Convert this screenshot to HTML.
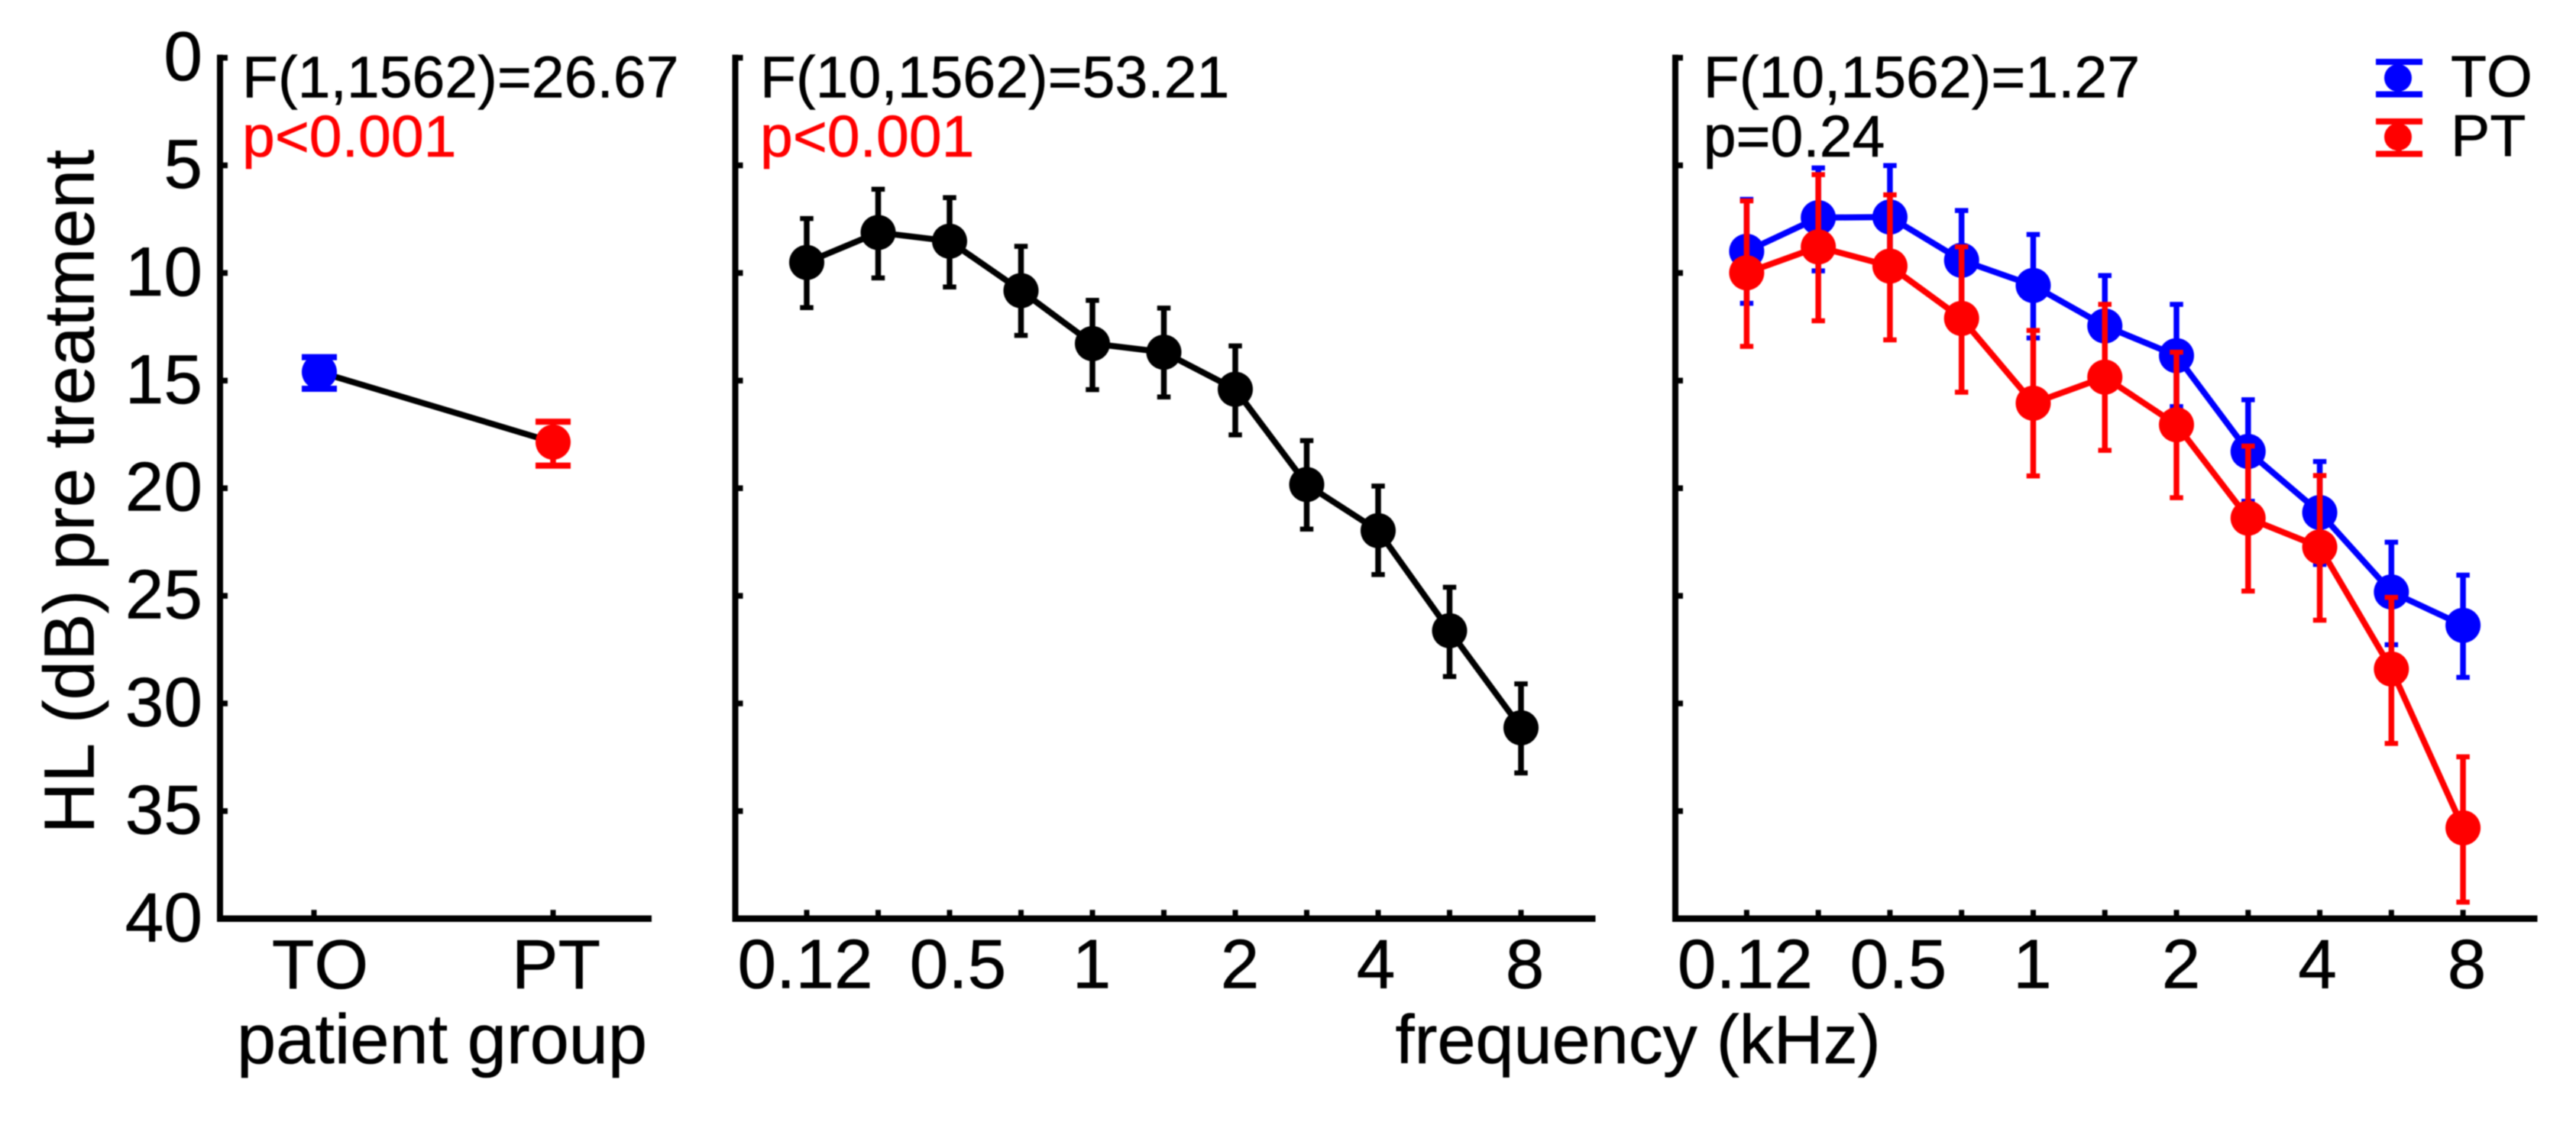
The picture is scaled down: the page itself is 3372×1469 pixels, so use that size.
<!DOCTYPE html>
<html lang="en">
<head>
<meta charset="utf-8">
<title>HL pre treatment by patient group and frequency</title>
<style>
  html, body { margin: 0; padding: 0; background: #ffffff; }
  #figure { display: block; width: 3372px; height: 1469px; filter: blur(0.7px); }
  text { font-family: "Liberation Sans", Arial, sans-serif; fill: #000000; stroke: #000000; stroke-width: 0.6px; font-kerning: none; }
</style>
</head>
<body>
<svg id="figure" xmlns="http://www.w3.org/2000/svg" width="3372" height="1469" viewBox="0 0 3372 1469">
  <rect x="0" y="0" width="3372" height="1469" fill="#ffffff"></rect>
</svg>
<script>
// ---- chart data (dB HL) ----
const yTickValues = [0, 5, 10, 15, 20, 25, 30, 35, 40];

const groupCategories = ['TO', 'PT'];
const groupMeans = [14.6, 17.86];
const groupUpper = [13.91, 16.91];
const groupLower = [15.38, 18.95];

const freqCategories = ['0.12', '0.25', '0.5', '0.75', '1', '1.5', '2', '3', '4', '6', '8'];
const freqTickLabels = ['0.12', '', '0.5', '', '1', '', '2', '', '4', '', '8'];

const allMeans = [9.51, 8.12, 8.52, 10.82, 13.28, 13.68, 15.40, 19.83, 21.97, 26.62, 31.13];
const allUpper = [7.47, 6.11, 6.50, 8.76, 11.27, 11.63, 13.39, 17.79, 19.90, 24.60, 29.09];
const allLower = [11.61, 10.23, 10.65, 12.90, 15.42, 15.76, 17.52, 21.90, 24.01, 28.75, 33.23];

const toMeans = [8.99, 7.43, 7.40, 9.41, 10.58, 12.46, 13.84, 18.29, 21.13, 24.82, 26.37];
const toUpper = [6.58, 5.12, 5.01, 7.10, 8.21, 10.12, 11.46, 15.89, 18.76, 22.51, 24.04];
const toLower = [11.41, 9.90, 9.77, 11.72, 13.02, 14.81, 16.21, 20.61, 23.54, 27.27, 28.79];

const ptMeans = [9.99, 8.79, 9.68, 12.11, 16.05, 14.84, 17.05, 21.39, 22.73, 28.40, 35.78];
const ptUpper = [6.65, 5.43, 6.37, 8.79, 12.67, 11.46, 13.68, 18.04, 19.41, 25.07, 32.48];
const ptLower = [13.41, 12.22, 13.11, 15.54, 19.43, 18.24, 20.44, 24.78, 26.13, 31.86, 39.23];

// ---- axis functions ----
const svg = document.getElementById('figure');
const NS = 'http://www.w3.org/2000/svg';
const BLUE = '#0000ff';
const RED = '#ff0000';
const BLACK = '#000000';

function yScale(v) { return 75.6 + v * 28.18; }
function groupX(i) { return 418 + i * 306; }
function freqXPanel2(i) { return 1056 + i * 93.5; }
function freqXPanel3(i) { return 2286.4 + i * 93.77; }

function make(parent, tag, props) {
  const el = document.createElementNS(NS, tag);
  Object.keys(props).forEach(function (k) { el.setAttribute(k, props[k]); });
  parent.appendChild(el);
  return el;
}
function seg(parent, x1, y1, x2, y2, color, w) {
  return make(parent, 'line', { x1: x1, y1: y1, x2: x2, y2: y2, stroke: color, 'stroke-width': w });
}
function label(parent, str, x, y, size, color, anchor) {
  const el = make(parent, 'text', { x: x, y: y, 'font-size': size, 'text-anchor': anchor || 'start' });
  if (color) { el.style.fill = color; el.style.stroke = color; }
  el.textContent = str;
  return el;
}

// Left and bottom spines with y ticks
function drawAxes(axisX, axisEnd) {
  const g = make(svg, 'g', {});
  
  
  const yLine = seg(g, axisX, yScale(0) - 4, axisX, yScale(40) + 4, BLACK, 8);
  
  
  const xLine = seg(g, axisX - 4, yScale(40), axisEnd, yScale(40), BLACK, 8.5);
  
  
  yTickValues.forEach(function (v) {
    const t = seg(g, axisX - 4, yScale(v), axisX + 10, yScale(v), BLACK, 7.5);
    
    
  });
  return g;
}

function drawXTick(g, x) {
  const t = seg(g, x, yScale(40) - 11.5, x, yScale(40), BLACK, 7);
  
  
}

// Error bar: stem plus two caps
function drawError(parent, x, up, low, color, capW, capH, stemW) {
  const g = make(parent, 'g', {});
  
  
  seg(g, x, yScale(up), x, yScale(low), color, stemW);
  seg(g, x - capW / 2, yScale(up), x + capW / 2, yScale(up), color, capH);
  seg(g, x - capW / 2, yScale(low), x + capW / 2, yScale(low), color, capH);
}

// Series polyline, error bars, markers
function drawSeries(name, xFn, means, upper, lower, color) {
  const g = make(svg, 'g', {});
  
  
  const pts = means.map(function (m, i) { return xFn(i) + ',' + yScale(m); }).join(' ');
  const line = make(g, 'polyline', { points: pts, fill: 'none', stroke: color, 'stroke-width': 8, 'stroke-linejoin': 'round' });
  
  
  means.forEach(function (m, i) {
    drawError(g, xFn(i), upper[i], lower[i], color, 17.5, 6.5, 7.5);
    const dot = make(g, 'circle', { cx: xFn(i), cy: yScale(m), r: 23, fill: color });
    
    
  });
}

// ---- Panel 1: patient group ----
const axes1 = drawAxes(288, 853);
const groupTickNudge = [-7, 0];
const groupLabelNudge = [1, 4];
groupCategories.forEach(function (c, i) {
  drawXTick(axes1, groupX(i) + groupTickNudge[i]);
  const t = label(axes1, c, groupX(i) + groupLabelNudge[i], 1294, 91, null, 'middle');
  
  
});
yTickValues.forEach(function (v) {
  const t = label(axes1, String(v), 265, yScale(v) + 29.5, 91, null, 'end');
  
  
});

const groupLine = make(svg, 'polyline', {
  points: groupMeans.map(function (m, i) { return groupX(i) + ',' + yScale(m); }).join(' '),
  fill: 'none', stroke: BLACK, 'stroke-width': 8
});


const groupColors = [BLUE, RED];
groupMeans.forEach(function (m, i) {
  drawError(svg, groupX(i), groupUpper[i], groupLower[i], groupColors[i], 46, 8, 7.5);
  const dot = make(svg, 'circle', { cx: groupX(i), cy: yScale(m), r: 23, fill: groupColors[i] });
  
  
});

// ---- Panels 2 and 3: frequency ----
const freqLabelNudge = { '0.12': -2, '0.5': 11, '1': -1, '2': 6, '4': -3, '8': 5 };
function drawFreqAxis(axisX, axisEnd, xFn) {
  const g = drawAxes(axisX, axisEnd);
  freqCategories.forEach(function (c, i) {
    drawXTick(g, xFn(i));
    const txt = freqTickLabels[i];
    if (txt) {
      const t = label(g, txt, xFn(i) + freqLabelNudge[txt], 1293.5, 91, null, 'middle');
      
      
    }
  });
}
drawFreqAxis(962.5, 2088.5, freqXPanel2);
drawFreqAxis(2193, 3321.5, freqXPanel3);

drawSeries('overall-series', freqXPanel2, allMeans, allUpper, allLower, BLACK);
drawSeries('to-series', freqXPanel3, toMeans, toUpper, toLower, BLUE);
drawSeries('pt-series', freqXPanel3, ptMeans, ptUpper, ptLower, RED);

// ---- Titles and annotations ----
const yTitle = label(svg, 'HL (dB) pre treatment', 0, 0, 92.6, null, 'start');
yTitle.setAttribute('transform', 'translate(122.3 1091.4) rotate(-90)');



const xTitle1 = label(svg, 'patient group', 310, 1392, 92, null, 'start');



const xTitle2 = label(svg, 'frequency (kHz)', 1826.5, 1392, 90, null, 'start');



const stat1 = label(svg, 'F(1,1562)=26.67', 317, 127.3, 77);


const p1 = label(svg, 'p<0.001', 317, 205, 77, RED);



const stat2 = label(svg, 'F(10,1562)=53.21', 995, 127.3, 77);


const p2 = label(svg, 'p<0.001', 995, 205, 77, RED);



const stat3 = label(svg, 'F(10,1562)=1.27', 2229.7, 127.3, 77);


const p3 = label(svg, 'p=0.24', 2229.7, 205, 77);



// ---- Legend ----
function drawLegendEntry(name, color, top, mid, bottom, baseline) {
  const g = make(svg, 'g', {});
  
  
  seg(g, 3140, top, 3140, bottom, color, 7.5);
  seg(g, 3110, top, 3171, top, color, 8);
  seg(g, 3110, bottom, 3171, bottom, color, 8);
  const dot = make(g, 'circle', { cx: 3139, cy: mid, r: 18, fill: color });
  
  
  const t = label(g, name, 3208, baseline, 77);
  
  
}
drawLegendEntry('TO', BLUE, 81, 102, 123.5, 126.7);
drawLegendEntry('PT', RED, 159, 179.3, 201.5, 204);
</script>
</body>
</html>
